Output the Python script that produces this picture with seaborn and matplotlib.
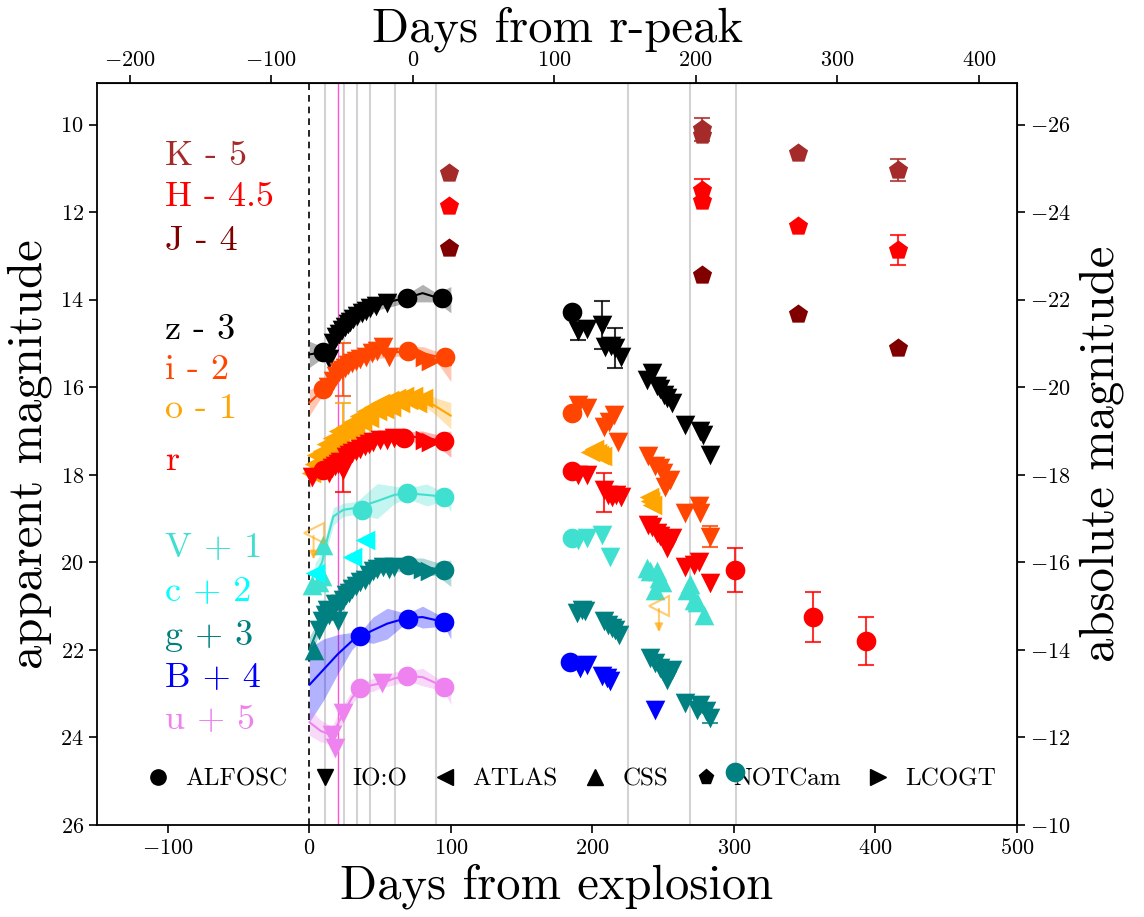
import numpy as np
import pandas as pd
import matplotlib
matplotlib.use("Agg")
import matplotlib.pyplot as plt
import seaborn as sns
from matplotlib.lines import Line2D

sns.set_style("ticks")
plt.rcParams.update({
    "font.family": "serif",
    "font.serif": ["cmr10", "DejaVu Serif"],
    "mathtext.fontset": "cm",
    "axes.formatter.use_mathtext": True,
    "axes.unicode_minus": True,
    "text.color": "black",
    "axes.labelcolor": "black",
    "xtick.color": "black",
    "ytick.color": "black",
    "axes.edgecolor": "black",
})

# ---------------- data (plotted, offset magnitudes) ----------------
band_colors = {"K": "#A52A2A", "H": "red", "J": "#800000", "z": "black",
               "i": "orangered", "o": "orange", "r": "red", "V": "turquoise",
               "c": "cyan", "g": "teal", "B": "blue", "u": "violet"}
inst_markers = {"ALFOSC": "o", "IO:O": "v", "ATLAS": "<", "CSS": "^",
                "NOTCam": "p", "LCOGT": ">"}

band_labels = ["K - 5", "H - 4.5", "J - 4", "z - 3", "i - 2", "o - 1", "r",
               "V + 1", "c + 2", "g + 3", "B + 4", "u + 5"]
band_label_bands = ["K", "H", "J", "z", "i", "o", "r", "V", "c", "g", "B", "u"]
band_label_y = [10.73, 11.65, 12.67, 14.69, 15.6, 16.51, 17.7,
                19.67, 20.67, 21.68, 22.64, 23.6]

# z band
z_alfosc_day = [10, 69, 94, 185.6]
z_alfosc_mag = [15.2, 13.95, 13.97, 14.27]
z_ioo_day = [14, 17, 19, 21, 23, 25, 27, 29, 31, 34, 37, 40, 43, 47, 55,
             190, 196, 207, 209, 213, 216, 220,
             238.6, 242, 245.6, 248, 250.4, 253, 256.3, 265.7, 276.3, 278, 283.4]
z_ioo_mag = [15.35, 15.0, 14.85, 14.78, 14.7, 14.62, 14.55, 14.5, 14.45, 14.38,
             14.3, 14.25, 14.18, 14.15, 14.08,
             14.72, 14.68, 14.57, 15.07, 15.05, 15.1, 15.3,
             15.83, 15.67, 15.98, 16.05, 16.17, 16.25, 16.36, 16.86, 17.0, 17.1, 17.54]
# i band
i_alfosc_day = [10, 70, 96, 185.6]
i_alfosc_mag = [16.05, 15.18, 15.32, 16.59]
i_ioo_day = [13, 17, 19, 21, 23, 25, 27, 30, 33, 36, 40, 44, 48, 52, 56,
             190, 196.5, 208, 212, 215, 218,
             239.6, 244.5, 248, 250, 251.6, 255, 265.7, 275, 276.3, 283.4]
i_ioo_mag = [16.0, 15.85, 15.75, 15.65, 15.6, 15.55, 15.5, 15.45, 15.4, 15.35,
             15.3, 15.22, 15.18, 15.07, 15.3,
             16.4, 16.47, 16.9, 16.8, 16.63, 17.24,
             17.58, 17.81, 17.85, 17.96, 18.27, 18.11, 18.87, 18.72, 18.87, 19.41]
i_lco_day = [82, 86]
i_lco_mag = [15.3, 15.4]
# o band
o_atlas_day = [1, 3, 5, 7, 9, 12, 14, 16, 18, 20, 22, 25, 27, 30, 32, 35, 37,
               40, 42, 45, 48, 50, 53, 56, 58, 61, 64, 67, 70, 73, 76, 80,
               198.6, 201, 203, 205, 207, 240, 241, 242]
o_atlas_mag = [17.95, 17.75, 17.55, 17.7, 17.45, 17.3, 17.5, 17.15, 17.35, 17.0,
               17.2, 16.9, 17.05, 16.8, 16.95, 16.65, 16.8, 16.55, 16.7, 16.45,
               16.55, 16.35, 16.5, 16.3, 16.45, 16.25, 16.35, 16.2, 16.3, 16.2,
               16.35, 16.25,
               17.47, 17.42, 17.5, 17.54, 17.58, 18.5, 18.6, 18.69]
# r band
r_alfosc_day = [10, 67, 95, 185.6, 301, 356, 393.6]
r_alfosc_mag = [17.89, 17.15, 17.22, 17.92, 20.17, 21.24, 21.79]
r_ioo_day = [2, 14, 16, 18, 20, 22, 24, 26, 28, 30, 33, 36, 39, 42, 45, 50, 55, 60,
             190, 196, 208, 211, 214, 217, 220,
             239.6, 242, 245.6, 248, 251.6, 253, 256.5, 265.7, 272, 275, 283]
r_ioo_mag = [18.05, 17.95, 17.85, 17.8, 17.75, 17.7, 17.9, 17.6, 17.55, 17.5,
             17.45, 17.4, 17.35, 17.3, 17.25, 17.2, 17.2, 17.15,
             18.0, 18.0, 18.34, 18.45, 18.5, 18.45, 18.5,
             19.14, 19.2, 19.33, 19.4, 19.52, 19.67, 19.44, 20.1, 20.05, 20.0, 20.47]
r_lco_day = [82, 86]
r_lco_mag = [17.2, 17.25]
# V band
V_css_day = [2, 6.6, 9, 10, 238.6, 241, 244.5, 245.6, 247, 249.2,
             267, 269, 271.6, 274, 278.7]
V_css_mag = [20.51, 20.44, 20.32, 19.6, 20.13, 20.2, 20.63, 20.2, 20.35, 20.44,
             20.63, 20.5, 20.86, 20.9, 21.2]
V_alfosc_day = [37, 69, 95, 185.6]
V_alfosc_mag = [18.8, 18.42, 18.5, 19.45]
V_ioo_day = [190, 196.5, 207, 212.7]
V_ioo_mag = [19.5, 19.45, 19.37, 19.87]
# c band
c_atlas_day = [4, 30, 39.6]
c_atlas_mag = [20.25, 19.87, 19.49]
# g band
g_css_day = [3]
g_css_mag = [22.0]
g_ioo_day = [7, 9, 11, 12.5, 14, 16, 18, 20, 22, 24, 26, 28, 30, 33, 36, 39, 42,
             45, 48, 52, 56, 60,
             189, 192.7, 195, 208, 211, 214, 216, 218.6,
             241, 244, 248, 250, 252.8, 256.3, 265.7, 274, 276.3, 280, 283.4]
g_ioo_mag = [21.55, 21.35, 21.2, 21.09, 21.2, 21.1, 20.95, 21.35, 20.95, 20.85,
             20.75, 20.7, 20.6, 20.55, 20.45, 20.4, 20.3, 20.2, 20.15, 20.1, 20.15, 20.1,
             21.15, 21.09, 21.12, 21.35, 21.42, 21.5, 21.55, 21.66,
             22.19, 22.3, 22.41, 22.5, 22.69, 22.46, 23.22, 23.37, 23.26, 23.4, 23.56]
g_alfosc_day = [70, 95, 301]
g_alfosc_mag = [20.06, 20.17, 24.78]
g_lco_day = [80, 85]
g_lco_mag = [20.15, 20.2]
# B band
B_alfosc_day = [36, 70, 95, 184.5]
B_alfosc_mag = [21.69, 21.3, 21.36, 22.27]
B_ioo_day = [191.5, 196, 206.8, 210, 212.7, 244.5]
B_ioo_mag = [22.41, 22.34, 22.6, 22.65, 22.72, 23.37]
# u band
u_ioo_day = [16, 18, 24, 51]
u_ioo_mag = [23.94, 24.24, 23.44, 22.76]
u_alfosc_day = [36, 69, 95]
u_alfosc_mag = [22.87, 22.6, 22.84]
# NIR
K_not_day = [98.5, 277.5, 277.5, 345, 416]
K_not_mag = [11.1, 10.11, 10.23, 10.65, 11.03]
H_not_day = [98.5, 277.5, 277.5, 345, 416]
H_not_mag = [11.87, 11.5, 11.75, 12.31, 12.86]
J_not_day = [98.5, 277.5, 345, 416]
J_not_mag = [12.82, 13.44, 14.32, 15.1]

# error bars
err_band = ["z", "z", "z", "i", "i", "o", "r", "r", "r", "r", "r",
            "K", "K", "H", "H", "g"]
err_day = [190, 207, 216, 24, 283.4, 24, 24, 208, 301, 356, 393.6,
           277.5, 416, 277.5, 416, 283.4]
err_mag = [14.72, 14.57, 15.1, 15.6, 19.41, 16.86, 17.9, 18.4, 20.17, 21.24, 21.79,
           10.11, 11.03, 11.5, 12.86, 23.56]
err_val = [0.2, 0.55, 0.45, 0.6, 0.25, 0.5, 0.5, 0.45, 0.5, 0.57, 0.55,
           0.27, 0.25, 0.25, 0.34, 0.12]

# upper limits (orange, open)
ul_day = [3, 247]
ul_mag = [19.33, 21.0]
ul_depth = [0.67, 0.66]

# GP fits (node values)
gp_z_day = [0, 10, 20, 30, 40, 50, 60, 70, 80, 90, 100]
gp_z_mag = [15.25, 15.2, 14.85, 14.55, 14.3, 14.12, 14.02, 13.95, 13.85, 13.95, 14.0]
gp_z_sig = [0.3, 0.12, 0.1, 0.1, 0.1, 0.1, 0.12, 0.1, 0.2, 0.1, 0.3]
gp_i_day = [0, 10, 20, 30, 40, 50, 60, 70, 80, 90, 100]
gp_i_mag = [16.35, 16.05, 15.7, 15.45, 15.3, 15.22, 15.2, 15.18, 15.22, 15.3, 15.5]
gp_i_sig = [0.3, 0.1, 0.1, 0.1, 0.1, 0.12, 0.1, 0.1, 0.15, 0.12, 0.37]
gp_o_day = [0, 10, 20, 30, 40, 50, 60, 70, 80, 90, 100]
gp_o_mag = [17.95, 17.6, 17.2, 16.85, 16.6, 16.4, 16.25, 16.2, 16.25, 16.45, 16.65]
gp_o_sig = [0.25, 0.12, 0.1, 0.1, 0.1, 0.1, 0.1, 0.1, 0.15, 0.2, 0.3]
gp_r_day = [0, 10, 20, 30, 40, 50, 60, 70, 80, 90, 100]
gp_r_mag = [18.05, 17.85, 17.65, 17.45, 17.3, 17.2, 17.15, 17.12, 17.15, 17.2, 17.3]
gp_r_sig = [0.25, 0.1, 0.1, 0.1, 0.1, 0.1, 0.1, 0.1, 0.15, 0.12, 0.3]
gp_V_day = [4, 9, 12.5, 17, 24, 34, 48, 60, 69, 83, 95, 100]
gp_V_mag = [20.32, 20.0, 19.49, 18.95, 18.8, 18.75, 18.6, 18.46, 18.42, 18.46, 18.5, 18.64]
gp_V_sig = [0.3, 0.25, 0.2, 0.2, 0.15, 0.15, 0.4, 0.2, 0.12, 0.25, 0.1, 0.2]
gp_g_day = [0, 5, 10, 20, 30, 40, 50, 60, 70, 80, 90, 100]
gp_g_mag = [22.0, 21.6, 21.2, 20.95, 20.6, 20.35, 20.15, 20.1, 20.05, 20.1, 20.15, 20.25]
gp_g_sig = [0.3, 0.2, 0.15, 0.12, 0.1, 0.1, 0.1, 0.12, 0.15, 0.2, 0.15, 0.3]
gp_B_day = [0, 10, 20, 30, 36, 45, 55, 69, 80, 95, 100]
gp_B_mag = [22.8, 22.45, 22.1, 21.8, 21.69, 21.55, 21.4, 21.27, 21.25, 21.36, 21.5]
gp_B_sig = [0.85, 0.7, 0.45, 0.2, 0.1, 0.3, 0.35, 0.1, 0.25, 0.1, 0.25]
gp_u_day = [0, 8, 16, 24, 30, 36, 45, 51, 60, 69, 80, 95, 100]
gp_u_mag = [23.65, 23.85, 23.95, 23.45, 23.1, 22.87, 22.8, 22.76, 22.65, 22.6, 22.62, 22.84, 23.0]
gp_u_sig = [0.3, 0.25, 0.2, 0.2, 0.15, 0.1, 0.15, 0.1, 0.15, 0.1, 0.2, 0.1, 0.25]

vline_gray = [11.3, 24.2, 33.7, 43.1, 60.8, 89.5, 225, 268.7, 301.8]
vline_magenta = 20.0
peak_offset = 73.0
abs_offset = 36.0

# ---------------- build tables ----------------
groups = [
    ("z", "ALFOSC", z_alfosc_day, z_alfosc_mag), ("z", "IO:O", z_ioo_day, z_ioo_mag),
    ("i", "ALFOSC", i_alfosc_day, i_alfosc_mag), ("i", "IO:O", i_ioo_day, i_ioo_mag),
    ("i", "LCOGT", i_lco_day, i_lco_mag),
    ("o", "ATLAS", o_atlas_day, o_atlas_mag),
    ("r", "ALFOSC", r_alfosc_day, r_alfosc_mag), ("r", "IO:O", r_ioo_day, r_ioo_mag),
    ("r", "LCOGT", r_lco_day, r_lco_mag),
    ("V", "CSS", V_css_day, V_css_mag), ("V", "ALFOSC", V_alfosc_day, V_alfosc_mag),
    ("V", "IO:O", V_ioo_day, V_ioo_mag),
    ("c", "ATLAS", c_atlas_day, c_atlas_mag),
    ("g", "CSS", g_css_day, g_css_mag), ("g", "IO:O", g_ioo_day, g_ioo_mag),
    ("g", "ALFOSC", g_alfosc_day, g_alfosc_mag), ("g", "LCOGT", g_lco_day, g_lco_mag),
    ("B", "ALFOSC", B_alfosc_day, B_alfosc_mag), ("B", "IO:O", B_ioo_day, B_ioo_mag),
    ("u", "IO:O", u_ioo_day, u_ioo_mag), ("u", "ALFOSC", u_alfosc_day, u_alfosc_mag),
    ("K", "NOTCam", K_not_day, K_not_mag), ("H", "NOTCam", H_not_day, H_not_mag),
    ("J", "NOTCam", J_not_day, J_not_mag),
]
rows = []
for b, inst, d, m in groups:
    for di, mi in zip(d, m):
        rows.append({"band": b, "inst": inst, "day": di, "mag": mi})
df = pd.DataFrame(rows)

gps = {"z": (gp_z_day, gp_z_mag, gp_z_sig), "i": (gp_i_day, gp_i_mag, gp_i_sig),
       "o": (gp_o_day, gp_o_mag, gp_o_sig), "r": (gp_r_day, gp_r_mag, gp_r_sig),
       "V": (gp_V_day, gp_V_mag, gp_V_sig), "g": (gp_g_day, gp_g_mag, gp_g_sig),
       "B": (gp_B_day, gp_B_mag, gp_B_sig), "u": (gp_u_day, gp_u_mag, gp_u_sig)}

# ---------------- figure ----------------
fig = plt.figure(figsize=(11.44, 9.17), dpi=100)
ax = fig.add_axes([0.0848, 0.1003, 0.8042, 0.8092])

for d in vline_gray:
    ax.axvline(d, color="lightgray", lw=1.5, zorder=0)
ax.axvline(vline_magenta, color="#ff55cc", lw=1.0, zorder=0)
ax.axvline(0, color="black", lw=1.2, ls=(0, (4, 3)), zorder=0)

for b, (d, m, s) in gps.items():
    d = np.array(d); m = np.array(m); s = np.array(s)
    ax.fill_between(d, m - s, m + s, color=band_colors[b], alpha=0.3, lw=0, zorder=1)
    sns.lineplot(x=d, y=m, color=band_colors[b], lw=1.5, ax=ax, sort=False,
                 estimator=None, zorder=2, legend=False)

for eb, ed, em, ev in zip(err_band, err_day, err_mag, err_val):
    ax.errorbar(ed, em, yerr=ev, fmt="none", ecolor=band_colors[eb], elinewidth=1.5,
                capsize=6, capthick=1.5, alpha=0.8, zorder=3)

for (b, inst), grp in df.groupby(["band", "inst"], sort=False):
    z = 7 if (b == "g" and inst == "ALFOSC") else 4
    sns.scatterplot(data=grp, x="day", y="mag", color=band_colors[b],
                    marker=inst_markers[inst], s=210 if inst == "NOTCam" else 200,
                    linewidth=0, ax=ax, legend=False, zorder=z)

for ud, um, ul in zip(ul_day, ul_mag, ul_depth):
    ax.plot(ud, um, marker="<", ms=15, mfc="none", mec="orange", mew=1.5,
            alpha=0.55, ls="none", zorder=4)
    ax.annotate("", xy=(ud, um + ul), xytext=(ud, um),
                arrowprops=dict(arrowstyle="-|>", color="orange", alpha=0.55,
                                lw=1.5, mutation_scale=12), zorder=4)

for lab, lb, ly in zip(band_labels, band_label_bands, band_label_y):
    ax.text(-102, ly, lab, color=band_colors[lb], fontsize=26, va="center", ha="left")

ax.set_xlim(-150, 500)
ax.set_ylim(26, 9.05)
ax.set_xticks(np.arange(-100, 501, 100))
ax.set_yticks(np.arange(10, 27, 2))
ax.tick_params(labelsize=16, direction="out", length=6, width=1.2, colors="black")
ax.set_xlabel("Days from explosion", fontsize=35, labelpad=4)
ax.set_ylabel("apparent magnitude", fontsize=35, labelpad=6)
for sp in ax.spines.values():
    sp.set_linewidth(1.3)
    sp.set_color("black")

secx = ax.secondary_xaxis("top", functions=(lambda x: x - peak_offset,
                                            lambda x: x + peak_offset))
secx.set_xticks(np.arange(-200, 401, 100))
secx.tick_params(labelsize=16, direction="out", length=6, width=1.2, colors="black")
secx.set_xlabel("Days from r-peak", fontsize=35, labelpad=6)

secy = ax.secondary_yaxis("right", functions=(lambda m: m - abs_offset,
                                              lambda a: a + abs_offset))
secy.set_yticks(np.arange(-26, -9, 2))
secy.tick_params(labelsize=16, direction="out", length=6, width=1.2, colors="black")
secy.set_ylabel("absolute magnitude", fontsize=35, labelpad=6)

handles = [Line2D([], [], color="black", marker=mk, ls="none", ms=11, label=name)
           for name, mk in inst_markers.items()]
leg = ax.legend(handles=handles, ncol=6, loc="center", bbox_to_anchor=(0.515, 0.062),
                frameon=False, fontsize=18, handlelength=1.0, handletextpad=0.6,
                columnspacing=1.0)
leg.set_zorder(5)

fig.savefig("out.png", dpi=100)
